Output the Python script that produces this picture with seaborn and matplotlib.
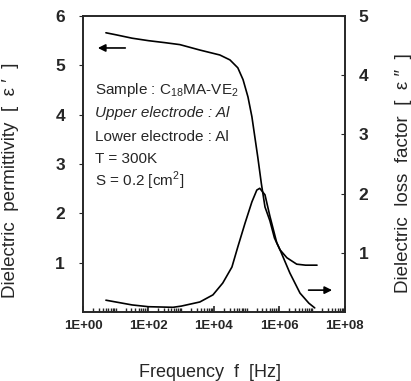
import numpy as np
import pandas as pd
import matplotlib
matplotlib.use('Agg')
import matplotlib.pyplot as plt
from matplotlib.ticker import FixedLocator, LogLocator, NullFormatter
import seaborn as sns

# permittivity e' (left axis), x given as log10 of frequency in Hz
eps1_logf = [0.7, 1.0, 1.5, 2.0, 2.5, 2.96, 3.57, 4.18, 4.49, 4.73, 4.89, 5.04, 5.16,
             5.25, 5.34, 5.45, 5.56, 5.71, 5.85, 6.02, 6.23, 6.53, 6.8, 7.15]
eps1 = [5.66, 5.62, 5.55, 5.5, 5.46, 5.42, 5.31, 5.21, 5.11, 4.95, 4.71, 4.36, 3.96,
        3.55, 3.14, 2.6, 2.13, 1.85, 1.5, 1.26, 1.10, 0.97, 0.95, 0.95]

# loss factor e'' (right axis)
eps2_logf = [0.7, 1.0, 1.5, 2.0, 2.75, 3.0, 3.57, 3.97, 4.27, 4.55, 4.73, 4.95, 5.16,
             5.31, 5.40, 5.56, 5.71, 5.92, 6.02, 6.32, 6.63, 6.9, 7.08]
eps2 = [0.20, 0.17, 0.12, 0.09, 0.08, 0.10, 0.17, 0.29, 0.49, 0.76, 1.1, 1.5, 1.86,
        2.06, 2.09, 1.98, 1.62, 1.17, 1.05, 0.66, 0.32, 0.15, 0.07]

x_ticks = [1e0, 1e2, 1e4, 1e6, 1e8]
x_labels = ['1E+00', '1E+02', '1E+04', '1E+06', '1E+08']
left_ticks = [1, 2, 3, 4, 5, 6]
right_ticks = [1, 2, 3, 4, 5]

info_lines = [
    ('Sample : C$_{18}$MA-VE$_2$', 'normal'),
    ('Upper electrode : Al', 'italic'),
    ('Lower electrode : Al', 'normal'),
    ('T = 300K', 'normal'),
    ('S = 0.2 [cm$^2$]', 'normal'),
]

sns.set_style('ticks')
plt.rcParams['font.family'] = ['Liberation Sans', 'DejaVu Sans']
plt.rcParams['mathtext.fontset'] = 'custom'
plt.rcParams['mathtext.rm'] = 'Liberation Sans'

df1 = pd.DataFrame({'f': 10 ** np.array(eps1_logf), 'v': eps1})
df2 = pd.DataFrame({'f': 10 ** np.array(eps2_logf), 'v': eps2})

fig = plt.figure(figsize=(4.11, 3.81), dpi=100)
ax = fig.add_axes([0.202, 0.181, 0.637, 0.777])
ax2 = ax.twinx()

sns.lineplot(data=df1, x='f', y='v', ax=ax, color='black', lw=1.2, sort=False)
sns.lineplot(data=df2, x='f', y='v', ax=ax2, color='black', lw=1.2, sort=False)

ax.set_xscale('log')
ax.set_xlim(1, 1e8)
ax.set_ylim(0, 6)
ax2.set_ylim(0, 5)

ax.xaxis.set_major_locator(FixedLocator(x_ticks))
ax.set_xticklabels(x_labels, fontsize=9.5, fontweight='bold')
ax.xaxis.set_minor_locator(LogLocator(base=10, subs=np.arange(1, 10), numticks=20))
ax.xaxis.set_minor_formatter(NullFormatter())
ax.tick_params(axis='x', which='major', direction='in', length=4, width=1.2, pad=6)
ax.tick_params(axis='x', which='minor', direction='in', length=3, width=1)

ax.set_yticks(left_ticks)
ax.set_yticklabels([str(t) for t in left_ticks], fontsize=12.5, fontweight='bold')
ax.tick_params(axis='y', direction='out', length=3, pad=10)
ax2.set_yticks(right_ticks)
ax2.set_yticklabels([str(t) for t in right_ticks], fontsize=12.5, fontweight='bold')
ax2.tick_params(axis='y', direction='in', length=3, pad=10)

for a in (ax, ax2):
    a.set_xlabel('')
    a.set_ylabel('')
    for s in a.spines.values():
        s.set_visible(True)
        s.set_linewidth(1.2)

ax.set_ylabel('Dielectric  permittivity  [  ε ′  ]', fontsize=13.5)
ax.yaxis.set_label_coords(-0.245, 0.445)
ax2.set_ylabel('Dielectric  loss  factor  [  ε ″  ]', fontsize=13.5, rotation=90)
ax2.yaxis.set_label_coords(1.192, 0.47)
ax.set_xlabel('Frequency  f  [Hz]', fontsize=13)
ax.xaxis.set_label_coords(0.485, -0.175)

ys = [0.75, 0.672, 0.591, 0.517, 0.443]
for (txt, style), y in zip(info_lines, ys):
    ax.text(0.046, y, txt, transform=ax.transAxes, fontsize=11, style=style,
            va='center', ha='left')

ax.annotate('', xy=(0.046, 0.892), xytext=(0.172, 0.892), xycoords='axes fraction',
            arrowprops=dict(arrowstyle='-|>', color='black', lw=1.2, mutation_scale=11))
ax.annotate('', xy=(0.962, 0.074), xytext=(0.851, 0.074), xycoords='axes fraction',
            arrowprops=dict(arrowstyle='-|>', color='black', lw=1.2, mutation_scale=11))

fig.savefig('out.png', dpi=100)
